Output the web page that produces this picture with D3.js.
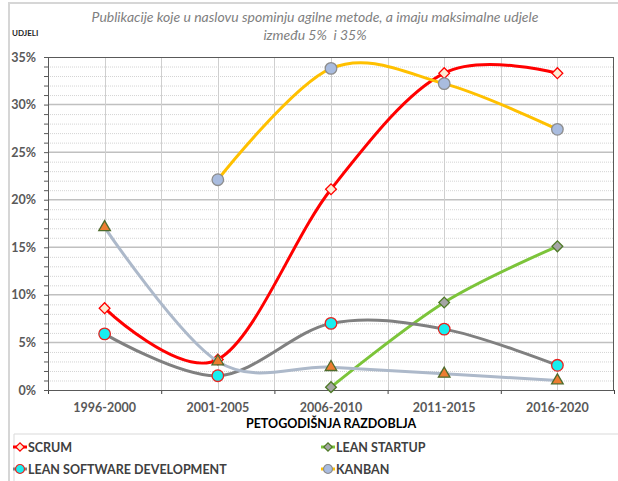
<!DOCTYPE html>
<html>
<head>
<meta charset="utf-8">
<script src="https://cdn.jsdelivr.net/npm/d3@7"></script>
<style>
body { margin: 0; background: #fff; }
svg { font-family: Lato, "Open Sans", sans-serif; }
</style>
</head>
<body>
<div id="chart"></div>
<script>
//---------------------------------------------------------------------
// Agilne metode - udjeli po petogodisnjim razdobljima
//---------------------------------------------------------------------

var periods = ["1996-2000", "2001-2005", "2006-2010", "2011-2015", "2016-2020"];
var scrum = [8.6, 3.2, 21.1, 33.3, 33.3];
var leanStartup = [null, null, 0.3, 9.2, 15.1];
var leanSoftware = [5.9, 1.5, 7.0, 6.4, 2.6];
var kanban = [null, 22.1, 33.8, 32.2, 27.4];
var fifthSeries = [17.1, 3.0, 2.4, 1.7, 1.0];
var seriesNames = ["SCRUM", "LEAN STARTUP", "LEAN SOFTWARE DEVELOPMENT", "KANBAN", ""];
var yMajorTicks = [0, 5, 10, 15, 20, 25, 30, 35];
var titleLines = ["Publikacije koje u naslovu spominju agilne metode, a imaju maksimalne udjele",
                  "između 5%  i 35%"];

var W = 618, H = 481;
var plot = {left: 48, right: 614, top: 57, bottom: 390};

var series = [
  {name: seriesNames[0], values: scrum, line: "#ff0000", shape: "diamond", fill: "#fdebd3", stroke: "#ff0000", lx: 20, ly: 447},
  {name: seriesNames[1], values: leanStartup, line: "#7cc43a", shape: "diamond", fill: "#a5a5a5", stroke: "#4f7a28", lx: 328, ly: 447},
  {name: seriesNames[2], values: leanSoftware, line: "#808080", shape: "circle", fill: "#18eef0", stroke: "#e8231f", lx: 20, ly: 469},
  {name: seriesNames[3], values: kanban, line: "#ffc000", shape: "circle", fill: "#a9bcdf", stroke: "#8c8c8c", lx: 328, ly: 469},
  {name: seriesNames[4], values: fifthSeries, line: "#adb9ca", shape: "triangle", fill: "#ed7d31", stroke: "#4e6b2c", lx: null}
];

var svg = d3.select("#chart").append("svg")
  .attr("width", W).attr("height", H);

var x = d3.scaleBand().domain(periods).range([plot.left, plot.right]);
var xIdx = d3.scaleLinear().domain([0, periods.length]).range([plot.left, plot.right]);
var y = d3.scaleLinear().domain([0, 35]).range([plot.bottom, plot.top]);
var cx = function(p) { return x(p) + x.bandwidth() / 2; };

// outer frame + legend box
svg.append("path")
  .attr("d", "M9,481 V3 H618")
  .attr("fill", "none").attr("stroke", "#d6d6d6").attr("stroke-width", 2);
svg.append("path")
  .attr("d", "M14,481 V434 H618")
  .attr("fill", "none").attr("stroke", "#d9d9d9").attr("stroke-width", 1);

// title
svg.append("g").selectAll("text")
  .data(titleLines).enter().append("text")
  .attr("x", 315).attr("y", function(d, i) { return 22 + i * 18; })
  .attr("text-anchor", "middle")
  .attr("font-style", "italic").attr("font-size", 14)
  .attr("fill", "#7f7f7f")
  .style("white-space", "pre")
  .text(function(d) { return d; });

svg.append("text")
  .attr("x", 12).attr("y", 36)
  .attr("font-size", 8).attr("font-weight", "bold").attr("fill", "#262626")
  .text("UDJELI");

// grid
var grid = svg.append("g");
grid.selectAll("line.minor")
  .data(d3.range(1, 35).filter(function(v) { return v % 5 != 0; }))
  .enter().append("line")
  .attr("x1", plot.left).attr("x2", plot.right)
  .attr("y1", function(d) { return y(d) + .5; }).attr("y2", function(d) { return y(d) + .5; })
  .attr("stroke", "#d4d4d4").attr("stroke-dasharray", "1,1");
grid.selectAll("line.major")
  .data(yMajorTicks.slice(1, -1))
  .enter().append("line")
  .attr("x1", plot.left).attr("x2", plot.right)
  .attr("y1", function(d) { return y(d); }).attr("y2", function(d) { return y(d); })
  .attr("stroke", "#c0c0c0").attr("stroke-width", 1.5);
grid.selectAll("line.vert")
  .data(d3.range(1, periods.length * 2))
  .enter().append("line")
  .attr("x1", function(d) { return Math.round(xIdx(d / 2)) + .5; })
  .attr("x2", function(d) { return Math.round(xIdx(d / 2)) + .5; })
  .attr("y1", plot.top).attr("y2", plot.bottom)
  .attr("stroke", "#cfcfcf");

// axes
svg.append("g")
  .attr("transform", "translate(" + plot.left + ",0)")
  .call(d3.axisLeft(y).tickValues(d3.range(0, 36)).tickSize(4).tickPadding(8)
    .tickFormat(function(d) { return d % 5 == 0 ? d + "%" : ""; }))
  .call(function(g) {
    g.select(".domain").attr("stroke", "#595959");
    g.selectAll(".tick line").attr("stroke", "#595959");
    g.selectAll(".tick text").attr("font-size", 12.5).attr("font-weight", "bold")
      .attr("fill", "#595959").attr("font-family", "Lato, sans-serif");
  });

svg.append("g")
  .attr("transform", "translate(0," + plot.bottom + ")")
  .call(d3.axisBottom(xIdx).tickValues(d3.range(0, periods.length + 1)).tickSize(4).tickFormat(""))
  .call(function(g) {
    g.select(".domain").attr("stroke", "#404040");
    g.selectAll(".tick line").attr("stroke", "#404040");
  });

svg.append("g")
  .attr("transform", "translate(0," + plot.bottom + ")")
  .call(d3.axisBottom(x).tickSize(0).tickPadding(13))
  .call(function(g) {
    g.select(".domain").remove();
    g.selectAll(".tick text").attr("font-size", 12.5).attr("font-weight", "bold")
      .attr("fill", "#595959").attr("font-family", "Lato, sans-serif");
  });

svg.append("text")
  .attr("x", (plot.left + plot.right) / 2).attr("y", 428)
  .attr("text-anchor", "middle")
  .attr("font-size", 12.5).attr("font-weight", "bold").attr("fill", "#000")
  .text("PETOGODIŠNJA RAZDOBLJA");

// plot frame
svg.append("rect")
  .attr("x", plot.left + .5).attr("y", plot.top + .5)
  .attr("width", plot.right - plot.left - 1).attr("height", plot.bottom - plot.top)
  .attr("fill", "none").attr("stroke", "#595959");

// markers
function marker(sel, shape, scale) {
  var path;
  if (shape == "diamond") path = d3.symbol().type(d3.symbolSquare).size(58 * scale)();
  else if (shape == "triangle") path = d3.symbol().type(d3.symbolTriangle).size(58 * scale)();
  else path = d3.symbol().type(d3.symbolCircle).size(105 * scale)();
  return sel.append("path").attr("d", path);
}

var line = d3.line()
  .x(function(d) { return cx(d.p); })
  .y(function(d) { return y(d.v); })
  .curve(d3.curveCardinal.tension(0));

series.forEach(function(s) {
  var pts = periods.map(function(p, i) { return {p: p, v: s.values[i]}; })
    .filter(function(d) { return d.v != null; });
  var g = svg.append("g");
  g.append("path").datum(pts)
    .attr("d", line)
    .attr("fill", "none").attr("stroke", s.line).attr("stroke-width", 3)
    .attr("stroke-linecap", "round");
  pts.forEach(function(d) {
    var m = g.append("g")
      .attr("transform", "translate(" + cx(d.p) + "," + y(d.v) + ")" + (s.shape == "diamond" ? " rotate(45)" : ""));
    marker(m, s.shape, 1).attr("fill", s.fill).attr("stroke", s.stroke).attr("stroke-width", 1.3);
  });
});

// legend
var legend = svg.append("g");
series.filter(function(s) { return s.lx != null; }).forEach(function(s) {
  var g = legend.append("g");
  g.append("line")
    .attr("x1", s.lx - 7).attr("x2", s.lx + 7)
    .attr("y1", s.ly).attr("y2", s.ly)
    .attr("stroke", s.line).attr("stroke-width", 3);
  var m = g.append("g")
    .attr("transform", "translate(" + s.lx + "," + s.ly + ")" + (s.shape == "diamond" ? " rotate(45)" : ""));
  marker(m, s.shape, 0.6).attr("fill", s.fill).attr("stroke", s.stroke).attr("stroke-width", 1.2);
  g.append("text")
    .attr("x", s.lx + 8).attr("y", s.ly + 4.5)
    .attr("font-size", 12.5).attr("font-weight", "bold").attr("fill", "#404040")
    .text(s.name);
});
</script>
</body>
</html>
